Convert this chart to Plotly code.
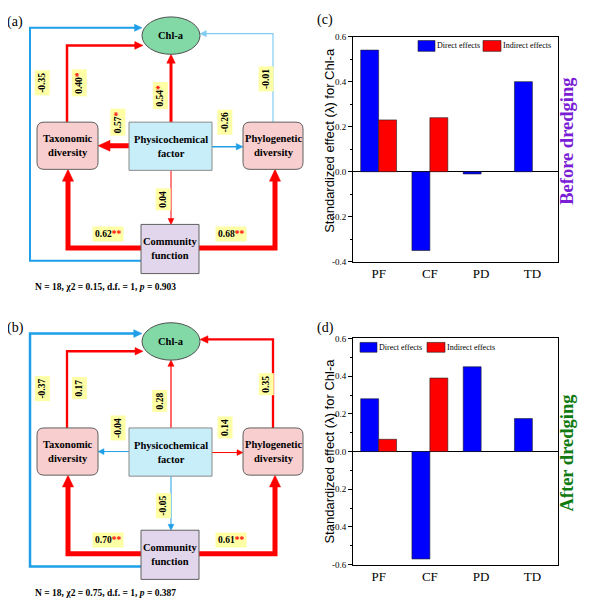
import math
import plotly.graph_objects as go

# ---------------- data ----------------
categories = ["PF", "CF", "PD", "TD"]
before_direct = [0.54, -0.35, -0.01, 0.40]
before_indirect = [0.23, 0.24, None, None]
after_direct = [0.28, -0.57, 0.45, 0.175]
after_indirect = [0.065, 0.39, None, None]

c_ticks = [-0.4, -0.2, 0.0, 0.2, 0.4, 0.6]
d_ticks = [-0.6, -0.4, -0.2, 0.0, 0.2, 0.4, 0.6]

path_names = ["CF-Chl", "TD-Chl", "PF-Chl", "PF-TD", "PF-PD", "PD-Chl", "PF-CF", "CF-TD", "CF-PD"]
coef_before = [-0.35, 0.40, 0.54, 0.57, -0.26, -0.01, 0.04, 0.62, 0.68]
sig_before = ["", "*", "*", "*", "", "", "", "**", "**"]
coef_after = [-0.37, 0.17, 0.28, -0.04, 0.14, 0.35, -0.05, 0.70, 0.61]
sig_after = ["", "", "", "", "", "", "", "**", "**"]
fit_before = ["18", "0.15", "1", "0.903"]
fit_after = ["18", "0.75", "1", "0.387"]

# ---------------- styles / layout ----------------
PW, PH = 600, 607          # page size
OFF = 8                    # page body margin
W, H = PW - OFF, PH - OFF  # figure size
SERIF = "Liberation Serif"
SANS = "Liberation Sans"
RED = "#FF0000"
BLUE = "#1E9FE8"
LBLUE = "#80CDF2"
YELLOW = "#FFFFA6"

width_before = [2, 2.5, 3, 5, 1.5, 1.2, 1, 5, 5]
width_after = [2.5, 2.3, 1.2, 1, 1, 2.3, 1, 5, 5]
color_before = [BLUE, RED, RED, RED, BLUE, LBLUE, RED, RED, RED]
color_after = [BLUE, RED, RED, BLUE, RED, RED, BLUE, RED, RED]

# polyline geometry of each path (panel-relative page pixel coords)
geom = [
    [(141, 260), (30, 260), (30, 23), (142, 23)],
    [(67, 119), (67, 41), (143, 41)],
    [(171, 119), (171, 50)],
    [(129, 143), (98, 143)],
    [(212, 144), (243, 144)],
    [(273, 119), (273, 29), (200, 29)],
    [(171, 168), (171, 223)],
    [(141, 247), (68, 247), (68, 167)],
    [(199, 247), (275, 247), (275, 167)],
]
label_pos = [(42, 79, -90), (79, 79, -90), (160, 92, -90), (118, 119, -90),
             (225, 119, -90), (266, 75, -90), (163, 198, -90), (108, 233, 0), (231, 233, 0)]

shapes = []
annotations = []


def add_arrow(points, color, w, dy):
    pts = [(x, y + dy) for x, y in points]
    L = 4.5 + 1.5 * w
    Hh = 2.3 + 0.65 * w
    (x1, y1), (x2, y2) = pts[-2], pts[-1]
    d = math.hypot(x2 - x1, y2 - y1)
    ux, uy = (x2 - x1) / d, (y2 - y1) / d
    px, py = -uy, ux
    line_pts = pts[:-1] + [(x2 - ux * L * 0.8, y2 - uy * L * 0.8)]
    p = "M " + " L ".join(f"{x:.2f},{y:.2f}" for x, y in line_pts)
    shapes.append(dict(type="path", path=p, xref="x3", yref="y3",
                       line=dict(color=color, width=w)))
    bx, by = x2 - ux * L, y2 - uy * L
    tri = (f"M {x2:.2f},{y2:.2f} L {bx + px * Hh:.2f},{by + py * Hh:.2f} "
           f"L {bx - px * Hh:.2f},{by - py * Hh:.2f} Z")
    shapes.append(dict(type="path", path=tri, xref="x3", yref="y3",
                       fillcolor=color, line=dict(color=color, width=0.5)))


def rounded(x0, y0, x1, y1, r):
    return (f"M {x0 + r},{y0} L {x1 - r},{y0} Q {x1},{y0} {x1},{y0 + r} "
            f"L {x1},{y1 - r} Q {x1},{y1} {x1 - r},{y1} L {x0 + r},{y1} "
            f"Q {x0},{y1} {x0},{y1 - r} L {x0},{y0 + r} Q {x0},{y0} {x0 + r},{y0} Z")


def box_text(x, y, text, size=10.5):
    annotations.append(dict(x=x, y=y, xref="x3", yref="y3", text=text, showarrow=False,
                            font=dict(family=SERIF, size=size, color="black")))


def draw_panel(dy, coefs, sigs, widths, colors, fit, letter):
    for g, c, w in zip(geom, colors, widths):
        add_arrow(g, c, w, dy)
    shapes.append(dict(type="circle", xref="x3", yref="y3", x0=142, x1=200, y0=12 + dy, y1=50 + dy,
                       fillcolor="#82D9A6", line=dict(color="#505050", width=1)))
    for (x0, x1) in [(37, 98), (243, 303)]:
        shapes.append(dict(type="path", xref="x3", yref="y3",
                           path=rounded(x0, 119 + dy, x1, 167 + dy, 7),
                           fillcolor="#F8CECE", line=dict(color="#606060", width=1)))
    shapes.append(dict(type="rect", xref="x3", yref="y3", x0=129, x1=212, y0=119 + dy, y1=168 + dy,
                       fillcolor="#C8EEFA", line=dict(color="#8A8A8A", width=1)))
    shapes.append(dict(type="rect", xref="x3", yref="y3", x0=141, x1=199, y0=223 + dy, y1=273 + dy,
                       fillcolor="#E2D6EC", line=dict(color="#606060", width=1)))
    box_text(171, 31 + dy, "<b>Chl-a</b>")
    box_text(67.5, 143 + dy, "<b>Taxonomic<br>diversity</b>")
    box_text(273, 143 + dy, "<b>Phylogenetic<br>diversity</b>")
    box_text(170.5, 143.5 + dy, "<b>Physicochemical<br>factor</b>")
    box_text(170, 248 + dy, "<b>Community<br>function</b>")
    for (lx, ly, ang), c, s in zip(label_pos, coefs, sigs):
        t = f"{c:.2f}"
        if s:
            t += f"<span style='color:#FF0000'>{s}</span>"
        annotations.append(dict(x=lx, y=ly + dy, xref="x3", yref="y3", text=f"<b>{t}</b>",
                                textangle=ang, showarrow=False, bgcolor=YELLOW, borderpad=2,
                                font=dict(family=SERIF, size=9.5, color="black")))
    annotations.append(dict(x=33, y=287 + dy, xref="x3", yref="y3", xanchor="left", showarrow=False,
                            text=(f"<b>N = {fit[0]}, \u03c72 = {fit[1]}, d.f. = {fit[2]}, "
                                  f"<i>p</i> = {fit[3]}</b>"),
                            font=dict(family=SERIF, size=9.5, color="black")))
    annotations.append(dict(x=15, y=17 + dy, xref="x3", yref="y3", text=letter, showarrow=False,
                            font=dict(family=SERIF, size=14, color="black")))


draw_panel(0, coef_before, sig_before, width_before, color_before, fit_before, "(a)")
draw_panel(311, coef_after, sig_after, width_after, color_after, fit_after, "(b)")

# ---------------- bar charts ----------------
fig = go.Figure()
fig.add_trace(go.Scatter(x=[100], y=[100], xaxis="x3", yaxis="y3", mode="markers",
                         marker=dict(opacity=0), showlegend=False, hoverinfo="skip"))
bar_line = dict(color="#202020", width=0.6)
fig.add_trace(go.Bar(x=categories, y=before_direct, marker=dict(color="#0000FF", line=bar_line),
                     xaxis="x", yaxis="y", showlegend=False, name="Direct effects"))
fig.add_trace(go.Bar(x=categories, y=before_indirect, marker=dict(color="#FF0000", line=bar_line),
                     xaxis="x", yaxis="y", showlegend=False, name="Indirect effects"))
fig.add_trace(go.Bar(x=categories, y=after_direct, marker=dict(color="#0000FF", line=bar_line),
                     xaxis="x2", yaxis="y2", showlegend=False, name="Direct effects"))
fig.add_trace(go.Bar(x=categories, y=after_indirect, marker=dict(color="#FF0000", line=bar_line),
                     xaxis="x2", yaxis="y2", showlegend=False, name="Indirect effects"))


def xd(a, b):
    return [(a - OFF) / W, (b - OFF) / W]


def yd(top, bottom):
    return [1 - (bottom - OFF) / H, 1 - (top - OFF) / H]


xdom = xd(353, 558)
common_x = dict(showline=True, mirror=True, linecolor="black", linewidth=1, ticks="",
                tickfont=dict(family=SERIF, size=13, color="black"), showgrid=False)


def yax(ticks, rng, dom, anchor):
    return dict(domain=dom, anchor=anchor, range=rng, tickvals=ticks,
                ticktext=[f"{v:.1f}" for v in ticks], ticks="outside", ticklen=4,
                tickcolor="black", minor=dict(dtick=0.1, ticks="outside", ticklen=2, tickcolor="black"),
                showline=True, mirror=True, linecolor="black", linewidth=1, showgrid=False,
                zeroline=True, zerolinecolor="black", zerolinewidth=1,
                tickfont=dict(family=SERIF, size=9, color="black"))


layout_axes = dict(
    xaxis=dict(domain=xdom, anchor="y", **common_x),
    yaxis=yax(c_ticks, [-0.4, 0.6], yd(32, 261), "x"),
    xaxis2=dict(domain=xdom, anchor="y2", **common_x),
    yaxis2=yax(d_ticks, [-0.6, 0.6], yd(339, 569), "x2"),
    xaxis3=dict(domain=[0, 1], anchor="y3", range=[OFF, PW], visible=False, fixedrange=True),
    yaxis3=dict(domain=[0, 1], anchor="x3", range=[PH, OFF], visible=False, fixedrange=True),
)


def legend(y0, y1, bx, rx, size=8):
    shapes.append(dict(type="rect", xref="x3", yref="y3", x0=bx, x1=bx + 17, y0=y0, y1=y1,
                       fillcolor="#0000FF", line=dict(color="#202020", width=0.6)))
    shapes.append(dict(type="rect", xref="x3", yref="y3", x0=rx, x1=rx + 18, y0=y0, y1=y1,
                       fillcolor="#FF0000", line=dict(color="#202020", width=0.6)))
    for x, t in [(bx + 18, "Direct effects"), (rx + 19, "Indirect effects")]:
        annotations.append(dict(x=x, y=(y0 + y1) / 2, xref="x3", yref="y3", xanchor="left",
                                text=t, showarrow=False, borderpad=0,
                                font=dict(family=SERIF, size=size, color="black")))


legend(36, 47, 418, 483)
legend(343, 353, 360, 427)

for yc, t, col in [(138, "Before dredging", "#7A1ED6"), (455, "After dredging", "#117A11")]:
    annotations.append(dict(x=567, y=yc, xref="x3", yref="y3", text=f"<b>{t}</b>", textangle=-90,
                            showarrow=False, font=dict(family=SERIF, size=18.5, color=col)))
for yc in [138, 454]:
    annotations.append(dict(x=330, y=yc, xref="x3", yref="y3", text="Standardized effect (\u03bb) for Chl-a",
                            textangle=-90, showarrow=False, font=dict(family=SANS, size=13, color="black")))
annotations.append(dict(x=325, y=15, xref="x3", yref="y3", text="(c)", showarrow=False,
                        font=dict(family=SERIF, size=14, color="black")))
annotations.append(dict(x=325, y=328, xref="x3", yref="y3", text="(d)", showarrow=False,
                        font=dict(family=SERIF, size=14, color="black")))

fig.update_layout(width=W, height=H, margin=dict(l=0, r=0, t=0, b=0),
                  paper_bgcolor="white", plot_bgcolor="rgba(0,0,0,0)", barmode="group",
                  bargap=0.3, bargroupgap=0, shapes=shapes, annotations=annotations,
                  **layout_axes)
fig.write_html("out.html")
